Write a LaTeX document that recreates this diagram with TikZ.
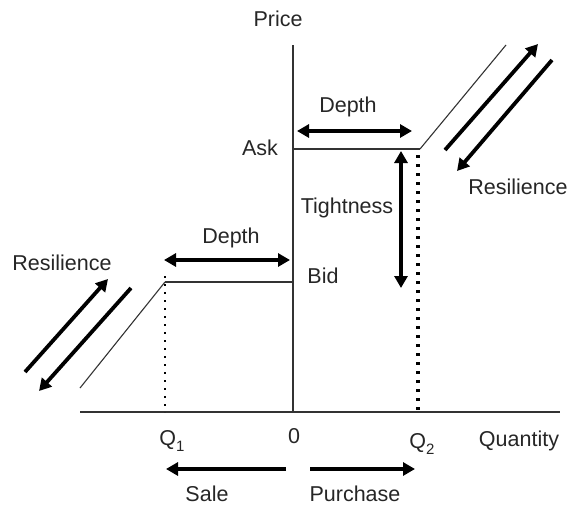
\documentclass[tikz,border=0pt]{standalone}
\usepackage{fontspec}
\setmainfont{Liberation Sans}
\usetikzlibrary{arrows.meta}
\tikzset{
  lbl/.style={font=\fontsize{21.5}{24}\selectfont, inner sep=0pt, text=black!85},
  axis/.style={line width=1.3pt, draw=black!80},
  level/.style={line width=1.6pt, draw=black!80},
  slope/.style={line width=1.1pt, draw=black!80},
  big/.style={line width=3.8pt, -{Triangle[length=12pt,width=13pt]}},
  bigboth/.style={line width=3.2pt, {Triangle[length=12pt,width=13pt]}-{Triangle[length=12pt,width=13pt]}},
  dots/.style={line width=2pt, dash pattern=on 2pt off 6pt},
  dotsthick/.style={line width=3.2pt, dash pattern=on 3pt off 6pt},
}
\begin{document}
\begin{tikzpicture}[x=1pt,y=-1pt]
\useasboundingbox (0,0) rectangle (571,506);
% axes
\coordinate (ytop) at (293,45);
\coordinate (orig) at (293,412);
\coordinate (xl) at (80,412);
\coordinate (xr) at (560,412);
\draw[axis] (ytop) -- (orig);
\draw[axis] (xl) -- (xr);
% ask side
\coordinate (askL) at (293,149);
\coordinate (askR) at (420,149);
\coordinate (askT) at (506,45);
\draw[level] (askL) -- (askR);
\draw[slope] (askR) -- (askT);
% bid side
\coordinate (bidR) at (293,282);
\coordinate (bidL) at (165,282);
\coordinate (bidB) at (80,388);
\draw[level] (bidR) -- (bidL);
\draw[slope] (bidL) -- (bidB);
% dotted verticals
\coordinate (q1b) at (165,412);
\coordinate (q2t) at (418,155);
\coordinate (q2b) at (418,412);
\draw[dots] ([yshift=6pt]bidL) -- (q1b);
\draw[dotsthick] (q2t) -- (q2b);
% depth arrows
\coordinate (d1a) at (297,131);
\coordinate (d1b) at (412,131);
\draw[bigboth] (d1a) -- (d1b);
\coordinate (d2a) at (164,260);
\coordinate (d2b) at (290,260);
\draw[bigboth] (d2a) -- (d2b);
% tightness
\coordinate (t1) at (401,151);
\coordinate (t2) at (401,288);
\draw[bigboth] (t1) -- (t2);
% resilience arrows
\coordinate (rl1a) at (25,372);
\coordinate (rl1b) at (108,279);
\draw[big] (rl1a) -- (rl1b);
\coordinate (rl2a) at (131,288);
\coordinate (rl2b) at (39,391);
\draw[big] (rl2a) -- (rl2b);
\coordinate (rr1a) at (445,150);
\coordinate (rr1b) at (538,44);
\draw[big] (rr1a) -- (rr1b);
\coordinate (rr2a) at (552,60);
\coordinate (rr2b) at (457,171);
\draw[big] (rr2a) -- (rr2b);
% sale / purchase
\coordinate (sa) at (286,469);
\coordinate (sb) at (166,469);
\draw[big] (sa) -- (sb);
\coordinate (pa) at (310,469);
\coordinate (pb) at (415,469);
\draw[big] (pa) -- (pb);
% labels
\node[lbl] (price) at (278,19) {Price};
\node[lbl] (ask) at (260,148) {Ask};
\node[lbl] (bid) at (323,276) {Bid};
\node[lbl] (depth1) at (348,107) {Depth};
\node[lbl] (depth2) at (231,238) {Depth};
\node[lbl] (tight) at (347,208) {Tightness};
\node[lbl] (resl) at (62,263) {Resilience};
\node[lbl] (resr) at (518,187) {Resilience};
\node[lbl] (q1) at (172,441) {Q\raisebox{-0.5ex}{\fontsize{15}{17}\selectfont 1}};
\node[lbl] (zero) at (294,436) {0};
\node[lbl] (q2) at (422,444) {Q\raisebox{-0.5ex}{\fontsize{15}{17}\selectfont 2}};
\node[lbl] (qty) at (519,441) {Quantity};
\node[lbl] (sale) at (207,494) {Sale};
\node[lbl] (purch) at (355,494) {Purchase};
\end{tikzpicture}
\end{document}
